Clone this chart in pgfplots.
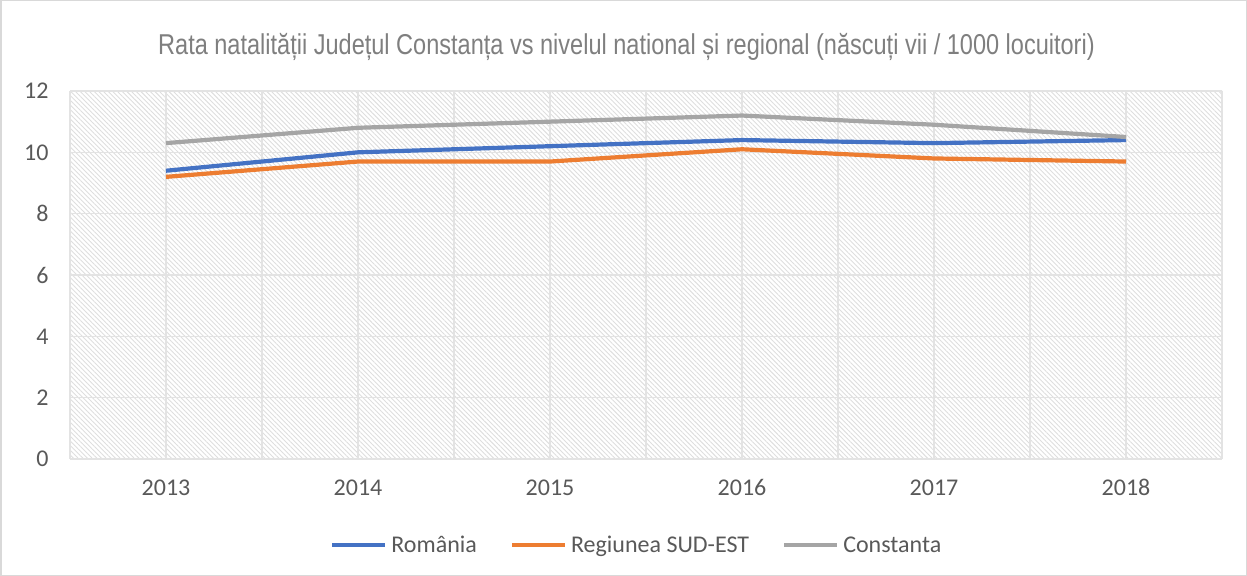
\documentclass[border=0pt]{standalone}
\usepackage{fontspec}
\setmainfont{Carlito}
\newfontfamily\titlefont[FakeStretch=0.82]{Liberation Sans}
\usepackage{pgfplots}
\pgfplotsset{compat=1.18}
\usetikzlibrary{patterns.meta}
\definecolor{cblue}{HTML}{4472C4}
\definecolor{corange}{HTML}{ED7D31}
\definecolor{cgray}{HTML}{A5A5A5}
\definecolor{textgray}{HTML}{595959}
\definecolor{titlegray}{HTML}{7F7F7F}
\definecolor{gridgray}{HTML}{E3E3E3}
\begin{document}
\begin{tikzpicture}
\draw[draw=black!15, line width=1.5bp] (0.75bp,0.75bp) rectangle (1246.25bp,575.25bp);
\node[font=\titlefont\fontsize{28.7bp}{32bp}\selectfont, text=titlegray] at (626.5bp,529bp)
  {Rata natalității Județul Constanța vs nivelul national și regional (născuți vii / 1000 locuitori)};
\begin{axis}[
  at={(70bp,117bp)}, anchor=south west,
  scale only axis, width=1152bp, height=368bp,
  xmin=-0.5, xmax=5.5, ymin=0, ymax=12,
  ytick={0,2,...,12},
  xtick={0,1,2,3,4,5},
  xticklabels={2013,2014,2015,2016,2017,2018},
  minor xtick={-0.5,0.5,1.5,2.5,3.5,4.5,5.5},
  grid=both,
  major grid style={draw=gridgray, line width=1.2bp},
  minor grid style={draw=gridgray, line width=1.2bp},
  major tick length=0pt, minor tick length=0pt,
  axis line style={draw=none},
  axis background/.style={pattern={Lines[angle=-45,distance=3.3bp,line width=0.9bp]}, pattern color=black!13},
  /pgf/number format/assume math mode=true,
  ticklabel style={font=\fontsize{24bp}{28bp}\selectfont, text=textgray},
  yticklabel style={xshift=-18bp},
  xticklabel style={yshift=-17bp},
  every axis plot/.append style={line width=4.2bp, line join=round},
  legend columns=3,
  legend style={draw=none, fill=none, at={(0.492,-0.234)}, anchor=center,
    font=\fontsize{24bp}{28bp}\selectfont, text=textgray, inner sep=0pt,
    /tikz/every odd column/.append style={column sep=2bp},
    /tikz/every even column/.append style={column sep=31bp}},
  legend image code/.code={\draw[#1] (0bp,0bp) -- (53bp,0bp);},
]
\addplot[cblue] coordinates {(0,9.4) (1,10.0) (2,10.2) (3,10.4) (4,10.3) (5,10.4)};
\addlegendentry{România}
\addplot[corange] coordinates {(0,9.2) (1,9.7) (2,9.7) (3,10.1) (4,9.8) (5,9.7)};
\addlegendentry{Regiunea SUD-EST}
\addplot[cgray] coordinates {(0,10.3) (1,10.8) (2,11.0) (3,11.2) (4,10.9) (5,10.5)};
\addlegendentry{Constanta}
\end{axis}
\end{tikzpicture}
\end{document}
